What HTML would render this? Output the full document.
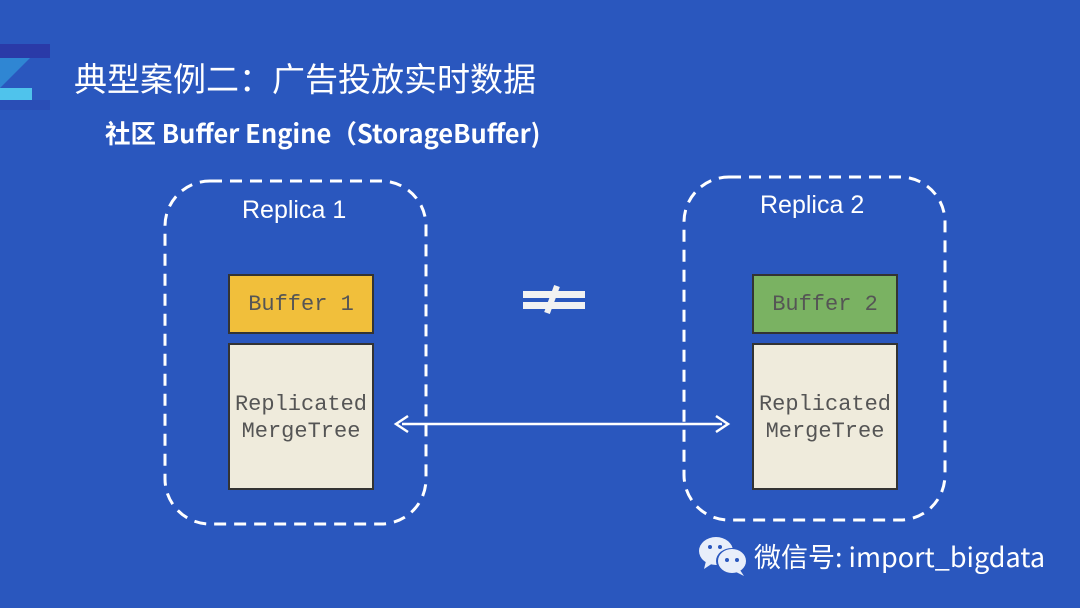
<!DOCTYPE html>
<html><head><meta charset="utf-8"><style>
body{margin:0;width:1080px;height:608px;background:#2a57be;position:relative;overflow:hidden;font-family:"Liberation Sans","Noto Sans CJK SC",sans-serif}
.a{position:absolute}
.mono{font-family:"Liberation Mono","DejaVu Sans Mono",monospace;color:#555;font-size:22px;text-align:center;border:2px solid #333;box-sizing:border-box}
</style></head><body>
<div class="a" style="left:0;top:44px;width:50px;height:14px;background:#2a3aa8"></div>
<div class="a" style="left:0;top:58px;width:0;height:0;border-left:30px solid #2f86d3;border-bottom:30px solid transparent"></div>
<div class="a" style="left:0;top:88px;width:32px;height:12px;background:#4fc3ec"></div>
<div class="a" style="left:0;top:100px;width:50px;height:10px;background:#2a4eb6"></div>
<div class="a" style="left:74px;top:55px;color:#fff;font-size:33px;line-height:44px;font-family:'Noto Sans CJK SC',sans-serif">典型案例二：广告投放实时数据</div>
<div class="a" style="left:105px;top:116px;color:#fff;font-size:25.5px;font-weight:bold;line-height:34px;font-family:'Noto Sans CJK SC',sans-serif">社区 Buffer Engine（StorageBuffer)</div>
<svg class="a" style="left:0;top:0" width="1080" height="608">
<rect x="165" y="181" width="261" height="343" rx="45" fill="none" stroke="#fff" stroke-width="3" stroke-dasharray="12 8"/>
<rect x="684" y="177" width="261" height="343" rx="45" fill="none" stroke="#fff" stroke-width="3" stroke-dasharray="12 8"/>
<line x1="402" y1="424" x2="722" y2="424" stroke="#fff" stroke-width="2.5"/>
<path d="M408 416 L396 424 L408 432" fill="none" stroke="#fff" stroke-width="2.5"/>
<path d="M716 416 L728 424 L716 432" fill="none" stroke="#fff" stroke-width="2.5"/>
<rect x="523" y="291" width="62" height="7" fill="#f2f2f2"/>
<rect x="523" y="302" width="62" height="7" fill="#f2f2f2"/>
<line x1="557" y1="286" x2="547" y2="313" stroke="#f2f2f2" stroke-width="6"/>
</svg>
<div class="a" style="left:242px;top:196px;color:#fff;font-size:25px">Replica 1</div>
<div class="a" style="left:760px;top:191px;color:#fff;font-size:25px">Replica 2</div>
<div class="a mono" style="left:228px;top:274px;width:146px;height:60px;line-height:58px;background:#f1bf3b">Buffer 1</div>
<div class="a mono" style="left:752px;top:274px;width:146px;height:60px;line-height:58px;background:#7ab262">Buffer 2</div>
<div class="a mono" style="left:228px;top:343px;width:146px;height:147px;background:#efebdc;padding-top:46px;line-height:27px">Replicated<br>MergeTree</div>
<div class="a mono" style="left:752px;top:343px;width:146px;height:147px;background:#efebdc;padding-top:46px;line-height:27px">Replicated<br>MergeTree</div>
<svg class="a" style="left:698px;top:534px" width="52" height="44">
<ellipse cx="18" cy="17" rx="17" ry="14" fill="#e8eefa"/><path d="M8 27 L6 35 L15 29Z" fill="#e8eefa"/>
<ellipse cx="34" cy="27" rx="16" ry="13" fill="#2a57be"/>
<ellipse cx="34" cy="27" rx="14" ry="12" fill="#e8eefa"/><path d="M42 36 L46 42 L38 38Z" fill="#e8eefa"/>
<circle cx="12" cy="13" r="2" fill="#2a57be"/><circle cx="22" cy="13" r="2" fill="#2a57be"/>
<circle cx="29" cy="26" r="2" fill="#2a57be"/><circle cx="39" cy="26" r="2" fill="#2a57be"/>
</svg>
<div class="a" style="left:754px;top:538px;color:#fff;font-size:27px;line-height:36px;font-family:'Noto Sans CJK SC',sans-serif">微信号: import_bigdata</div>
</body></html>
